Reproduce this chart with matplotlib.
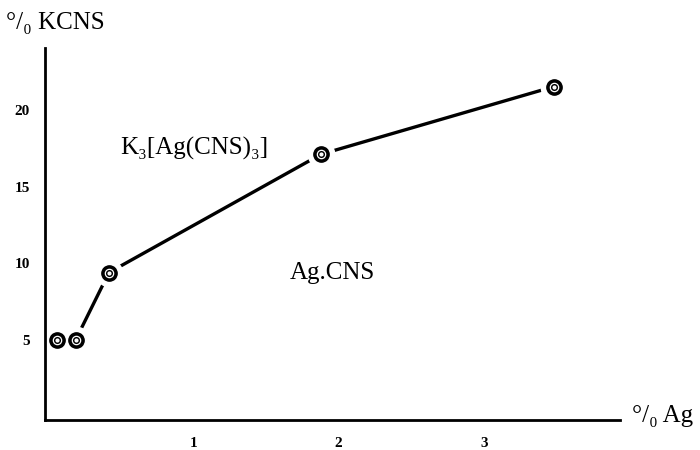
import matplotlib
matplotlib.use("Agg")
import matplotlib.pyplot as plt

# Data
ag_percent = [0.06, 0.19, 0.42, 1.88, 3.48]
kcns_percent = [5.0, 5.0, 9.4, 17.1, 21.5]
x_ticks = [1, 2, 3]
x_tick_labels = ["1", "2", "3"]
y_ticks = [5, 10, 15, 20]
y_tick_labels = ["5", "10", "15", "20"]
x_label = "°/₀ Ag"
y_label = "°/₀ KCNS"
region_labels = ["K₃[Ag(CNS)₃]", "Ag.CNS"]
region_pos = [(1.01, 17.5), (1.96, 9.4)]

plt.rcParams['font.family'] = ['Liberation Serif', 'DejaVu Serif']

fig = plt.figure(figsize=(7, 4.5), dpi=100)
ax = fig.add_axes([0.0643, 0.0667, 0.822, 0.826])
ax.set_xlim(-0.02, 3.94)
ax.set_ylim(-0.2, 24.0)

for s in ['top', 'right']:
    ax.spines[s].set_visible(False)
for s in ['left', 'bottom']:
    ax.spines[s].set_linewidth(2.0)
    ax.spines[s].set_color('black')
    ax.spines[s].set_zorder(3)

# connecting line
ax.plot(ag_percent, kcns_percent, color='black', lw=2.4, zorder=1, solid_capstyle='butt')
# white halo gaps around points
ax.plot(ag_percent, kcns_percent, 'o', ms=19, mfc='white', mec='white', zorder=2)
# bullseye markers
ax.plot(ag_percent, kcns_percent, 'o', ms=11, mfc='black', mec='black', zorder=4)
ax.plot(ag_percent, kcns_percent, 'o', ms=6, mfc='none', mec='white', mew=0.9, zorder=5)
ax.plot(ag_percent, kcns_percent, 'o', ms=2, mfc='white', mec='white', zorder=6)

ax.set_xticks(x_ticks)
ax.set_xticklabels(x_tick_labels, fontweight='bold', fontsize=11)
ax.set_yticks(y_ticks)
ax.set_yticklabels(y_tick_labels, fontweight='bold', fontsize=11)
ax.tick_params(axis='both', length=0)
ax.tick_params(axis='x', pad=12)
ax.tick_params(axis='y', pad=11)

for lab, (px, py) in zip(region_labels, region_pos):
    ax.text(px, py, lab, fontsize=18, ha='center', va='center')

fig.text(6/700, 1 - 23/450, y_label, fontsize=18, ha='left', va='center')
fig.text(632/700, 1 - 416/450, x_label, fontsize=18, ha='left', va='center')

fig.savefig("out.png", dpi=100)
